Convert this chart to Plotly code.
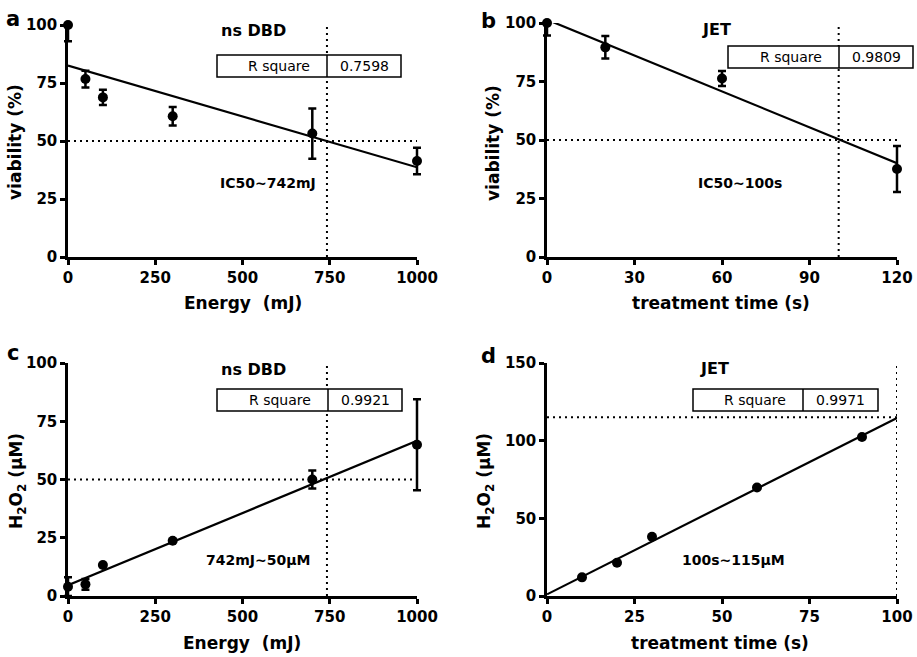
import numpy as np
import plotly.graph_objects as go

W, H = 917, 657

# ---------------- data ----------------
a_energy = [0, 50, 100, 300, 700, 1000]
a_viab = [100, 76.7, 68.8, 60.7, 53.2, 41.4]
a_err_plus = [0, 3.6, 3.3, 4.0, 10.8, 5.7]
a_err_minus = [7.0, 3.6, 3.3, 4.0, 10.8, 5.7]
a_r2 = "0.7598"
a_ref = (742, 50)
a_note = "IC50~742mJ"

b_time = [0, 20, 60, 120]
b_viab = [100, 89.6, 76.3, 37.6]
b_err_plus = [0, 4.8, 3.2, 9.8]
b_err_minus = [5.3, 4.8, 3.2, 9.8]
b_r2 = "0.9809"
b_ref = (100, 50)
b_note = "IC50~100s"

c_energy = [0, 50, 100, 300, 700, 1000]
c_h2o2 = [4.0, 5.0, 13.3, 23.7, 50.0, 64.9]
c_err = [4.0, 2.3, 0, 0, 3.9, 19.5]
c_r2 = "0.9921"
c_ref = (742, 50)
c_note = "742mJ~50μM"

d_time = [10, 20, 30, 60, 90]
d_h2o2 = [12.0, 21.4, 38.1, 69.9, 102.4]
d_r2 = "0.9971"
d_ref = (100, 115)
d_note = "100s~115μM"

x_ticks_energy = [0, 250, 500, 750, 1000]
x_ticks_b = [0, 30, 60, 90, 120]
x_ticks_d = [0, 25, 50, 75, 100]
y_ticks_pct = [0, 25, 50, 75, 100]
y_ticks_d = [0, 50, 100, 150]

# ---------------- helpers ----------------
FONT = "DejaVu Sans"
PAD = 15  # px padding of the hidden data subplot (keeps edge markers unclipped)


def px_x(p):
    return p / W


def px_y(p):
    return 1 - p / H


def ann(text, x, y, size, bold=True, angle=0, xanchor="center"):
    return dict(text=text, x=px_x(x), y=px_y(y), xref="paper", yref="paper",
                showarrow=False, textangle=angle, xanchor=xanchor, yanchor="middle",
                font=dict(family=FONT, size=size, color="black",
                          weight="bold" if bold else "normal"))


panels = [
    dict(ax="", hx="5", x=a_energy, y=a_viab, ep=a_err_plus, em=a_err_minus, r2=a_r2, ref=a_ref,
         note=a_note, title="ns DBD", xr=[0, 1000], yr=[0, 100], xt=x_ticks_energy, yt=y_ticks_pct,
         xd=(68, 417), yd=(25, 257), letter="a", letter_pos=(13, 19), title_pos=(253, 31),
         note_pos=(268, 183), box=(217, 327, 401, 55, 77),
         xlab="Energy\u00a0\u00a0(mJ)", xlab_pos=(243, 303), ylab="viability (%)", ylab_pos=(15, 142)),
    dict(ax="2", hx="6", x=b_time, y=b_viab, ep=b_err_plus, em=b_err_minus, r2=b_r2, ref=b_ref,
         note=b_note, title="JET", xr=[0, 120], yr=[0, 100], xt=x_ticks_b, yt=y_ticks_pct,
         xd=(547, 897), yd=(23, 257), letter="b", letter_pos=(488, 21), title_pos=(716, 29),
         note_pos=(740, 183), box=(728, 839, 913, 46, 68),
         xlab="treatment time (s)", xlab_pos=(721, 303), ylab="viability (%)", ylab_pos=(493, 143)),
    dict(ax="3", hx="7", x=c_energy, y=c_h2o2, ep=c_err, em=c_err, r2=c_r2, ref=c_ref,
         note=c_note, title="ns DBD", xr=[0, 1000], yr=[0, 100], xt=x_ticks_energy, yt=y_ticks_pct,
         xd=(68, 417), yd=(363, 596), letter="c", letter_pos=(13, 353), title_pos=(253, 369),
         note_pos=(258, 560), box=(217, 328, 402, 389, 411),
         xlab="Energy\u00a0\u00a0(mJ)", xlab_pos=(242, 643),
         ylab="H<sub>2</sub>O<sub>2</sub> (μM)", ylab_pos=(17, 481)),
    dict(ax="4", hx="8", x=d_time, y=d_h2o2, ep=None, em=None, r2=d_r2, ref=d_ref,
         note=d_note, title="JET", xr=[0, 100], yr=[0, 150], xt=x_ticks_d, yt=y_ticks_d,
         xd=(547, 897), yd=(363, 596), letter="d", letter_pos=(488, 356), title_pos=(714, 368),
         note_pos=(733, 560), box=(693, 803, 878, 389, 411),
         xlab="treatment time (s)", xlab_pos=(720, 643),
         ylab="H<sub>2</sub>O<sub>2</sub> (μM)", ylab_pos=(485, 481)),
]

fig = go.Figure()
annotations = []
shapes = []
layout = dict(template="none", width=W, height=H, autosize=False,
              margin=dict(l=0, r=0, t=0, b=0, pad=0),
              paper_bgcolor="white", plot_bgcolor="rgba(0,0,0,0)", showlegend=False)

axis_common = dict(showline=True, linecolor="black", linewidth=2.5, ticks="outside",
                   ticklen=5, tickwidth=2.5, tickcolor="black", showgrid=False,
                   zeroline=False, automargin=False, mirror=False,
                   tickfont=dict(family=FONT, size=15, color="black", weight="bold"))

for p in panels:
    xa, ya = "x" + p["ax"], "y" + p["ax"]
    hxa, hya = "x" + p["hx"], "y" + p["hx"]

    # regression line from the data (clipped to the visible subplot)
    slope, icpt = np.polyfit(p["x"], p["y"], 1)
    xl = np.array(p["xr"], dtype=float)
    fig.add_trace(go.Scatter(x=xl, y=icpt + slope * xl, mode="lines",
                             line=dict(color="black", width=2.2), xaxis=xa, yaxis=ya,
                             hoverinfo="skip"))
    # points + error bars on a hidden, padded subplot with identical scale
    err = None
    if p["ep"] is not None:
        err = dict(type="data", symmetric=False, array=p["ep"], arrayminus=p["em"],
                   color="black", thickness=2.5, width=4)
    fig.add_trace(go.Scatter(x=p["x"], y=p["y"], mode="markers",
                             marker=dict(color="black", size=10), error_y=err,
                             cliponaxis=False, xaxis=hxa, yaxis=hya))

    x0, x1 = p["xd"]
    yt0, yb0 = p["yd"]
    layout["xaxis" + p["ax"]] = dict(axis_common, domain=[px_x(x0), px_x(x1)],
                                     range=p["xr"], tickvals=p["xt"], anchor=ya)
    layout["yaxis" + p["ax"]] = dict(axis_common, domain=[px_y(yb0), px_y(yt0)],
                                     range=p["yr"], tickvals=p["yt"], anchor=xa)
    sx = (p["xr"][1] - p["xr"][0]) / (x1 - x0)
    sy = (p["yr"][1] - p["yr"][0]) / (yb0 - yt0)
    layout["xaxis" + p["hx"]] = dict(visible=False, automargin=False,
                                     domain=[px_x(x0 - PAD), px_x(x1 + PAD)],
                                     range=[p["xr"][0] - PAD * sx, p["xr"][1] + PAD * sx],
                                     anchor=hya)
    layout["yaxis" + p["hx"]] = dict(visible=False, automargin=False,
                                     domain=[px_y(yb0 + PAD), px_y(yt0 - PAD)],
                                     range=[p["yr"][0] - PAD * sy, p["yr"][1] + PAD * sy],
                                     anchor=hxa)

    # dotted reference lines
    rx, ry = p["ref"]
    dot = dict(color="black", width=2, dash="2px,4px")
    shapes.append(dict(type="line", xref=xa, yref=ya, x0=p["xr"][0], x1=p["xr"][1],
                       y0=ry, y1=ry, line=dot))
    shapes.append(dict(type="line", xref=xa, yref=ya, x0=rx, x1=rx,
                       y0=p["yr"][0], y1=p["yr"][1], line=dot))

    # R square table
    l, m, r, t, b = p["box"]
    shapes.append(dict(type="rect", xref="paper", yref="paper", x0=px_x(l), x1=px_x(r),
                       y0=px_y(b), y1=px_y(t), line=dict(color="black", width=1.5),
                       fillcolor="white", layer="above"))
    shapes.append(dict(type="line", xref="paper", yref="paper", x0=px_x(m), x1=px_x(m),
                       y0=px_y(b), y1=px_y(t), line=dict(color="black", width=1.5)))
    cy = (t + b) / 2
    annotations.append(ann("R square", m - 15, cy, 14, bold=False, xanchor="right"))
    annotations.append(ann(p["r2"], (m + r) / 2, cy, 14, bold=False))

    annotations.append(ann(p["letter"], *p["letter_pos"], 21))
    annotations.append(ann(p["title"], *p["title_pos"], 16))
    annotations.append(ann(p["note"], *p["note_pos"], 14))
    annotations.append(ann(p["xlab"], *p["xlab_pos"], 17))
    annotations.append(ann(p["ylab"], *p["ylab_pos"], 17, angle=-90))

layout["annotations"] = annotations
layout["shapes"] = shapes
fig.update_layout(**layout)
fig.write_html("out.html", config={"displayModeBar": False},
               post_script="document.body.style.margin='0px';document.body.style.overflow='hidden';")
